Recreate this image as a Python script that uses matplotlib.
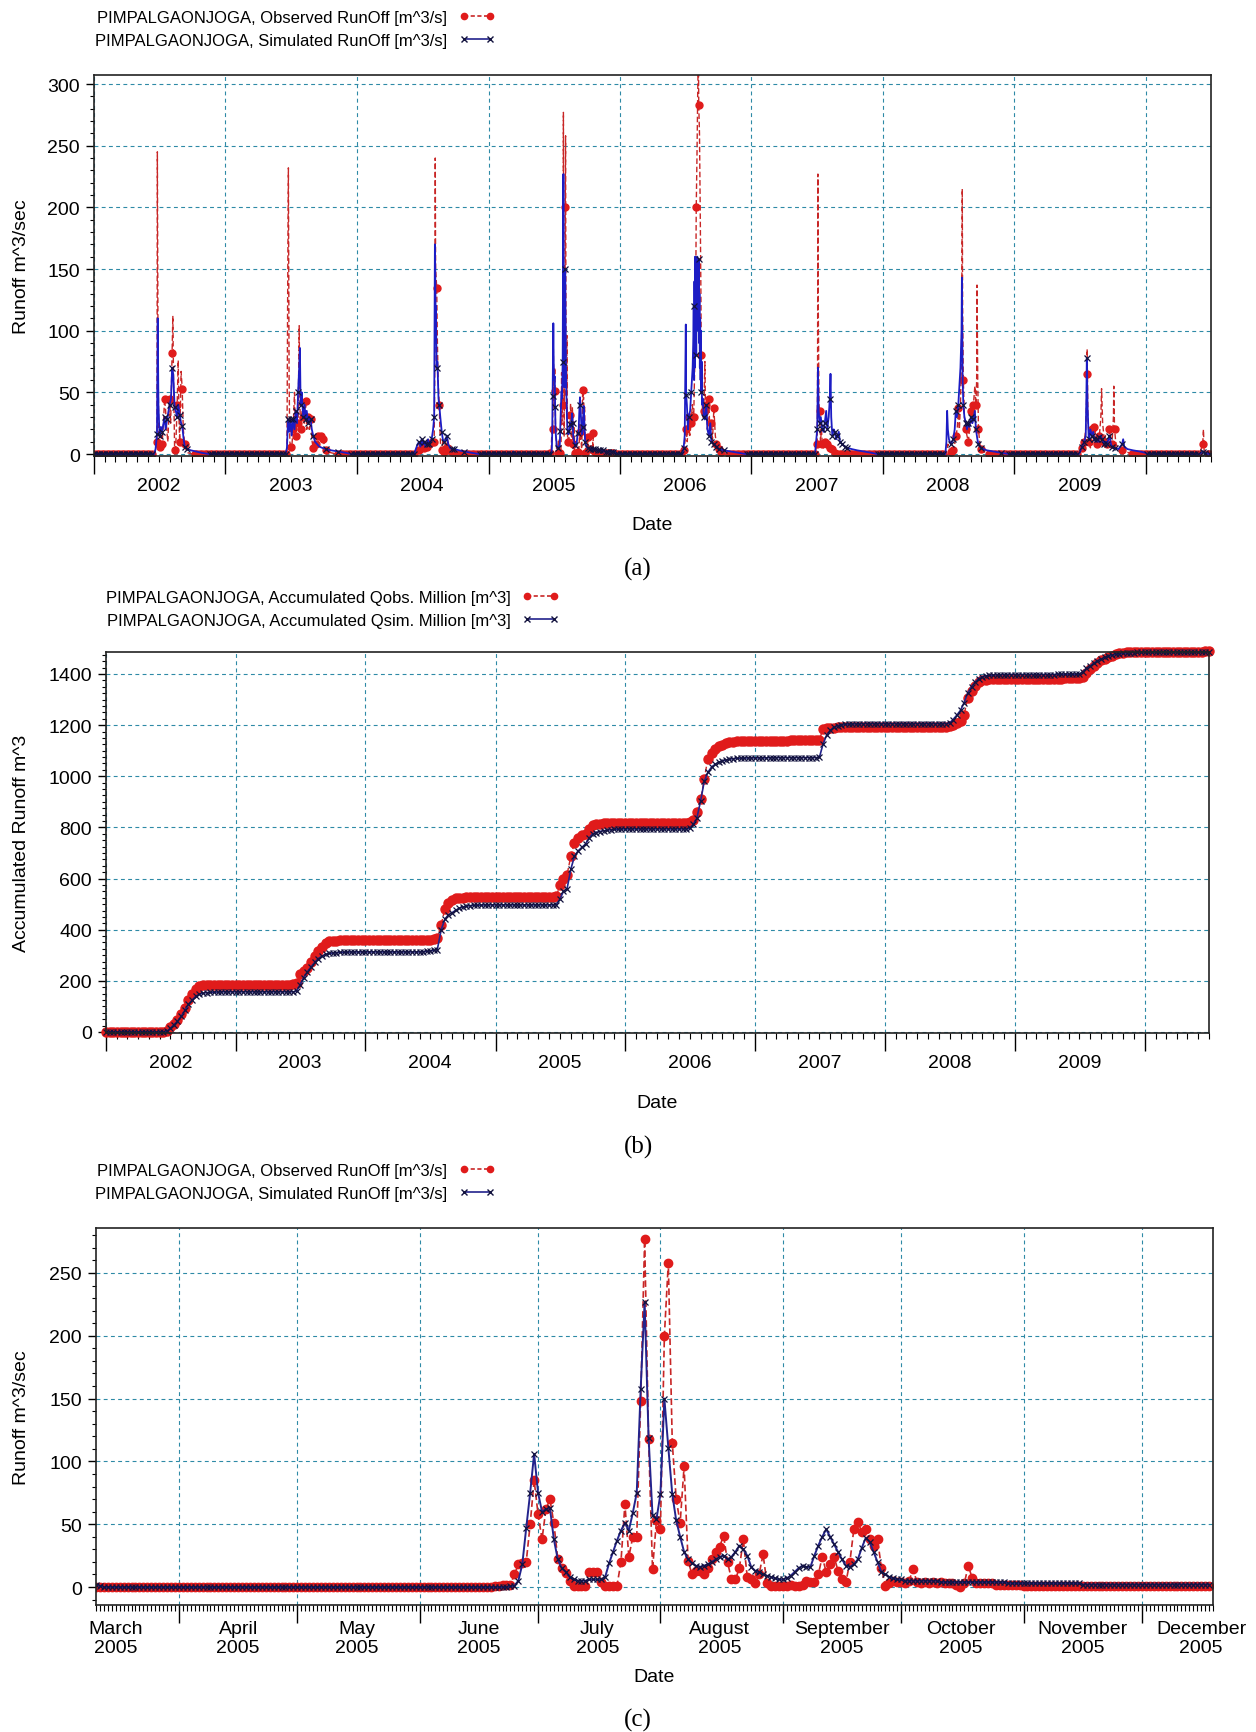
import numpy as np
import pandas as pd
import matplotlib
matplotlib.use("Agg")
import matplotlib.pyplot as plt
import matplotlib.dates as mdates
from matplotlib.lines import Line2D
from matplotlib.ticker import MultipleLocator, NullFormatter, FuncFormatter

plt.rcParams["font.family"] = ["Liberation Sans", "DejaVu Sans"]

W, H = 1256, 1733

OBS_DOT = "#e01b1b"
OBS_LINE = "#c82626"
SIM_LINE_A = "#1c1cc4"
SIM_LINE = "#23238c"
SIM_MARK = "#12123e"
GRID = "#2e8aa6"

STATION = "PIMPALGAONJOGA"
YEARS = [2002, 2003, 2004, 2005, 2006, 2007, 2008, 2009]
MARK_EVERY_DAYS = 7

# ---------------------------------------------------------------------------
# (a) daily runoff [m^3/s] during the monsoon, (day of year, value)
# dry season is zero
OBS_2002 = [(168, 0), (172, 3), (176, 10), (177, 245), (179, 75), (181, 12), (183, 6), (187, 15),
            (190, 8), (194, 25), (197, 45), (200, 35), (203, 20), (206, 10), (209, 30), (211, 45),
            (214, 25), (218, 82), (220, 112), (222, 60), (225, 3), (228, 5), (232, 40), (235, 76),
            (237, 30), (239, 10), (243, 67), (246, 53), (249, 20), (253, 8), (257, 3), (262, 1), (275, 0)]
SIM_2002 = [(168, 0), (172, 4), (176, 16), (178, 110), (180, 40), (183, 15), (187, 22), (190, 18),
            (194, 25), (197, 30), (200, 20), (204, 28), (208, 35), (211, 40), (215, 45), (218, 70),
            (221, 65), (225, 38), (228, 35), (232, 30), (235, 40), (239, 32), (243, 25), (246, 23),
            (250, 12), (253, 6), (260, 4), (270, 3), (285, 2), (300, 1), (320, 0)]

OBS_2003 = [(168, 0), (172, 2), (174, 130), (176, 232), (178, 60), (180, 10), (182, 6), (186, 8),
            (189, 20), (193, 50), (196, 15), (200, 30), (203, 25), (206, 104), (208, 40), (210, 20),
            (214, 35), (217, 30), (220, 25), (224, 43), (227, 20), (231, 30), (234, 20), (238, 28),
            (242, 10), (245, 5), (249, 15), (252, 8), (256, 15), (259, 15), (263, 12), (266, 15),
            (270, 14), (273, 12), (277, 5), (280, 3), (284, 2), (295, 1), (310, 0)]
SIM_2003 = [(168, 0), (172, 5), (175, 28), (178, 18), (182, 28), (185, 15), (189, 28), (193, 20),
            (196, 35), (200, 25), (203, 50), (206, 70), (208, 86), (210, 40), (213, 50), (217, 30),
            (221, 40), (224, 28), (227, 35), (231, 25), (234, 30), (238, 28), (241, 20), (245, 15),
            (250, 10), (256, 8), (262, 6), (270, 5), (280, 4), (295, 3), (315, 2), (335, 1), (350, 0)]

OBS_2004 = [(160, 0), (165, 2), (170, 5), (174, 3), (178, 6), (181, 8), (185, 4), (188, 5),
            (192, 3), (195, 6), (199, 4), (202, 8), (206, 6), (209, 10), (213, 12), (216, 10),
            (218, 80), (219, 240), (220, 150), (221, 145), (223, 135), (225, 90), (227, 60), (230, 40),
            (232, 20), (234, 5), (237, 3), (240, 10), (244, 2), (247, 10), (251, 5), (254, 12),
            (258, 3), (262, 8), (265, 2), (272, 1), (285, 0)]
SIM_2004 = [(160, 0), (165, 4), (170, 8), (174, 10), (178, 6), (181, 12), (185, 8), (188, 10),
            (192, 6), (195, 8), (199, 12), (202, 8), (206, 10), (209, 12), (213, 20), (216, 30),
            (217, 100), (218, 170), (219, 150), (220, 110), (221, 120), (222, 90), (223, 70), (225, 75),
            (228, 45), (230, 40), (233, 30), (237, 18), (240, 12), (244, 10), (248, 12), (251, 15),
            (255, 8), (260, 5), (265, 4), (272, 4), (285, 3), (300, 2), (320, 1), (340, 0)]

OBS_2006 = [(175, 0), (178, 3), (181, 8), (185, 20), (188, 10), (192, 30), (195, 15), (199, 25),
            (202, 40), (206, 30), (208, 60), (210, 90), (212, 150), (213, 200), (215, 240), (217, 290),
            (219, 330), (220, 283), (222, 260), (224, 200), (226, 130), (227, 80), (229, 50), (231, 30),
            (234, 35), (237, 75), (239, 30), (241, 40), (244, 20), (248, 45), (251, 15), (255, 25),
            (258, 10), (262, 37), (266, 15), (269, 8), (276, 4), (283, 2), (300, 0)]
SIM_2006 = [(175, 0), (178, 5), (181, 15), (184, 105), (185, 48), (187, 40), (190, 20), (192, 30),
            (196, 35), (199, 50), (203, 70), (205, 95), (206, 120), (207, 60), (208, 140), (209, 70),
            (210, 160), (211, 90), (212, 150), (213, 80), (214, 155), (215, 100), (216, 160), (217, 110),
            (218, 150), (219, 120), (220, 158), (221, 90), (222, 130), (223, 70), (224, 110), (225, 60),
            (226, 100), (227, 50), (228, 75), (229, 40), (231, 45), (234, 30), (237, 28), (241, 40),
            (244, 20), (248, 15), (252, 25), (255, 10), (262, 8), (269, 6), (276, 4), (290, 3),
            (310, 2), (330, 1), (350, 0)]

OBS_2007 = [(178, 0), (181, 5), (184, 8), (185, 60), (186, 227), (187, 120), (189, 40), (191, 35),
            (193, 10), (196, 20), (198, 8), (202, 5), (205, 10), (209, 4), (212, 8), (216, 3),
            (219, 5), (223, 2), (226, 4), (233, 1), (240, 0)]
SIM_2007 = [(178, 0), (181, 10), (184, 20), (185, 40), (186, 70), (188, 35), (191, 25), (194, 30),
            (198, 20), (202, 18), (205, 25), (209, 35), (212, 20), (216, 30), (219, 45), (221, 65),
            (223, 30), (226, 15), (230, 20), (233, 18), (237, 12), (240, 15), (244, 18), (247, 10),
            (254, 8), (261, 6), (268, 5), (280, 4), (295, 3), (315, 2), (335, 1), (350, 0)]

OBS_2008 = [(175, 0), (179, 3), (182, 8), (186, 4), (190, 2), (194, 5), (197, 3), (201, 8),
            (204, 15), (208, 20), (211, 37), (214, 20), (217, 40), (220, 80), (222, 215), (223, 120),
            (225, 60), (228, 30), (232, 20), (235, 15), (239, 10), (242, 20), (246, 35), (250, 25),
            (253, 40), (257, 55), (260, 40), (262, 60), (263, 137), (265, 60), (267, 20), (271, 8),
            (274, 4), (282, 2), (295, 0)]
SIM_2008 = [(175, 0), (178, 10), (180, 35), (182, 20), (185, 12), (190, 8), (194, 10), (197, 12),
            (201, 20), (204, 35), (207, 30), (211, 40), (214, 55), (217, 70), (220, 100), (221, 143),
            (223, 60), (225, 40), (228, 30), (232, 25), (235, 20), (239, 25), (242, 22), (246, 30),
            (250, 25), (253, 28), (257, 35), (260, 20), (264, 12), (267, 8), (274, 5), (290, 3),
            (310, 2), (330, 1), (350, 0)]

OBS_2009 = [(180, 0), (185, 2), (188, 5), (192, 8), (195, 10), (199, 20), (201, 40), (202, 65),
            (203, 85), (205, 30), (209, 10), (212, 5), (216, 20), (219, 18), (223, 22), (226, 15),
            (230, 8), (233, 12), (237, 15), (241, 30), (243, 53), (246, 25), (251, 10), (254, 15),
            (258, 8), (262, 10), (265, 20), (269, 12), (272, 8), (276, 30), (277, 55), (279, 20),
            (283, 8), (290, 5), (300, 3), (312, 2), (325, 0)]
SIM_2009 = [(180, 0), (185, 3), (188, 6), (192, 8), (195, 10), (199, 15), (201, 50), (202, 78),
            (204, 40), (207, 15), (209, 12), (212, 20), (216, 15), (220, 18), (223, 12), (227, 10),
            (230, 12), (234, 10), (237, 14), (241, 15), (244, 12), (248, 10), (251, 8), (255, 10),
            (258, 8), (262, 12), (265, 15), (269, 8), (272, 6), (279, 5), (290, 4), (300, 8),
            (303, 12), (306, 6), (315, 4), (330, 3), (350, 2), (365, 1)]

OBS_2010 = [(150, 0), (159, 8), (161, 20), (163, 3), (170, 0)]
SIM_2010 = [(150, 0), (159, 2), (166, 1), (175, 0)]

# ---------------------------------------------------------------------------
# (b) accumulated volume [million m^3] on the 1st, 11th and 21st of each month
ACC_OBS_2002 = [0, 0, 0, 0, 0, 0, 0, 0, 0, 0, 0, 0, 0, 0, 0, 0, 0, 3,
                18, 33, 48, 70, 95, 125, 150, 168, 180, 182, 183, 184, 184, 184, 185, 185, 185, 185]
ACC_SIM_2002 = [0, 0, 0, 0, 0, 0, 0, 0, 0, 0, 0, 0, 0, 0, 0, 0, 0, 3,
                14, 28, 42, 62, 85, 108, 126, 140, 148, 152, 154, 155, 156, 156, 157, 157, 157, 157]
ACC_OBS_2003 = [185, 185, 185, 185, 185, 185, 185, 185, 185, 185, 185, 185, 185, 185, 185, 185, 186, 190,
                225, 238, 250, 272, 298, 318, 333, 348, 354, 356, 357, 358, 358, 358, 358, 358, 358, 358]
ACC_SIM_2003 = [157, 157, 157, 157, 157, 157, 157, 157, 157, 157, 157, 157, 157, 157, 157, 157, 157, 160,
                185, 212, 235, 255, 272, 287, 297, 303, 307, 309, 310, 311, 312, 312, 313, 313, 313, 313]
ACC_OBS_2004 = [358, 358, 358, 358, 358, 358, 358, 358, 358, 358, 358, 358, 358, 358, 358, 358, 358, 359,
                361, 363, 366, 420, 480, 505, 518, 522, 524, 525, 526, 526, 527, 527, 527, 527, 527, 527]
ACC_SIM_2004 = [313, 313, 313, 313, 313, 313, 313, 313, 313, 313, 313, 313, 313, 313, 313, 313, 314, 315,
                317, 319, 322, 400, 440, 458, 467, 476, 484, 489, 492, 494, 495, 496, 496, 497, 497, 497]
ACC_OBS_2005 = [527, 527, 527, 527, 527, 527, 527, 527, 527, 527, 527, 527, 527, 527, 527, 527, 527, 530,
                575, 600, 615, 690, 740, 760, 770, 775, 795, 808, 813, 815, 816, 816, 817, 817, 817, 818]
ACC_SIM_2005 = [497, 497, 497, 497, 497, 497, 497, 497, 497, 497, 497, 497, 497, 497, 497, 497, 497, 498,
                520, 550, 560, 638, 688, 708, 722, 735, 758, 775, 780, 784, 787, 789, 791, 792, 793, 794]
ACC_OBS_2006 = [818, 818, 818, 818, 818, 818, 818, 818, 818, 818, 818, 818, 818, 818, 818, 818, 818, 818,
                820, 830, 860, 910, 990, 1068, 1092, 1106, 1118, 1124, 1129, 1133, 1135, 1136, 1137, 1138, 1138, 1139]
ACC_SIM_2006 = [794, 794, 794, 794, 794, 794, 794, 794, 794, 794, 794, 794, 794, 794, 794, 794, 794, 794,
                796, 812, 835, 905, 980, 1015, 1037, 1047, 1055, 1060, 1064, 1067, 1069, 1070, 1071, 1071, 1072, 1072]
ACC_OBS_2007 = [1139, 1139, 1139, 1139, 1139, 1139, 1139, 1139, 1139, 1139, 1140, 1140, 1140, 1140, 1140, 1141, 1141, 1141,
                1142, 1186, 1188, 1189, 1190, 1191, 1192, 1193, 1193, 1194, 1194, 1194, 1194, 1194, 1194, 1194, 1194, 1194]
ACC_SIM_2007 = [1072, 1072, 1072, 1072, 1073, 1073, 1073, 1073, 1073, 1073, 1073, 1073, 1073, 1073, 1073, 1073, 1073, 1073,
                1074, 1125, 1160, 1180, 1192, 1198, 1201, 1203, 1204, 1205, 1205, 1205, 1206, 1206, 1206, 1206, 1206, 1206]
ACC_OBS_2008 = [1194, 1194, 1194, 1194, 1194, 1194, 1194, 1194, 1194, 1194, 1194, 1194, 1194, 1194, 1194, 1194, 1194, 1194,
                1195, 1200, 1208, 1215, 1240, 1305, 1333, 1352, 1370, 1376, 1378, 1379, 1380, 1380, 1380, 1381, 1381, 1381]
ACC_SIM_2008 = [1206, 1206, 1206, 1206, 1206, 1206, 1206, 1206, 1206, 1206, 1206, 1206, 1206, 1206, 1206, 1206, 1206, 1206,
                1208, 1222, 1238, 1258, 1288, 1325, 1350, 1368, 1382, 1389, 1393, 1395, 1396, 1397, 1397, 1398, 1398, 1398]
ACC_OBS_2009 = [1381, 1381, 1381, 1381, 1381, 1381, 1381, 1381, 1381, 1381, 1382, 1382, 1382, 1382, 1383, 1383, 1383, 1384,
                1385, 1390, 1405, 1420, 1433, 1444, 1453, 1460, 1467, 1472, 1477, 1481, 1484, 1485, 1485, 1485, 1486, 1486]
ACC_SIM_2009 = [1398, 1398, 1398, 1398, 1398, 1398, 1398, 1398, 1398, 1398, 1398, 1398, 1399, 1399, 1399, 1399, 1399, 1399,
                1400, 1408, 1422, 1432, 1442, 1452, 1459, 1465, 1470, 1474, 1477, 1479, 1481, 1482, 1483, 1484, 1485, 1485]
ACC_OBS_2010 = [1486, 1486, 1486, 1486, 1486, 1486, 1486, 1486, 1486, 1486, 1486, 1486, 1486, 1486, 1486, 1487, 1487, 1488, 1488]
ACC_SIM_2010 = [1485, 1485, 1485, 1485, 1485, 1485, 1485, 1486, 1486, 1486, 1486, 1486, 1486, 1486, 1486, 1486, 1486, 1486, 1486]

# ---------------------------------------------------------------------------
# (c) daily runoff [m^3/s], 11 March - 18 December 2005
C_START = "2005-03-11"
C_OBS_MAR = [0, 0, 0, 0, 0, 0, 0, 0, 0, 0, 0, 0, 0, 0, 0, 0, 0, 0, 0, 0, 0]
C_OBS_APR = [0, 0, 0, 0, 0, 0, 0, 0, 0, 0, 0, 0, 0, 0, 0, 0, 0, 0, 0, 0, 0, 0, 0, 0, 0, 0, 0, 0, 0, 0]
C_OBS_MAY = [0, 0, 0, 0, 0, 0, 0, 0, 0, 0, 0, 0, 0, 0, 0, 0, 0, 0, 0, 0, 0, 0, 0, 0, 0, 0, 0, 0, 0, 0, 0]
C_OBS_JUN = [0, 0, 0, 0, 0, 0, 0, 0, 0, 0, 0, 0, 0, 0, 0, 0, 0, 0, 0, 1, 1, 2, 2, 2, 10, 18, 19, 20, 50, 85]
C_OBS_JUL = [58, 38, 62, 70, 51, 22, 15, 11, 5, 1, 1, 1, 1, 12, 12, 12, 4, 1, 1, 1, 1, 20, 66, 24, 40,
             40, 148, 277, 118, 14, 53]
C_OBS_AUG = [46, 200, 258, 115, 70, 51, 96, 21, 10, 13, 13, 10, 15, 22, 28, 32, 41, 20, 6, 6, 15, 38,
             8, 6, 3, 10, 26, 3, 1, 1, 1]
C_OBS_SEP = [1, 1, 2, 1, 1, 2, 5, 4, 4, 10, 24, 12, 18, 24, 13, 6, 4, 20, 46, 52, 44, 46, 38, 33, 38,
             15, 1, 3, 5, 4]
C_OBS_OCT = [4, 3, 5, 14, 4, 3, 4, 3, 4, 3, 4, 3, 3, 3, 2, 0, 3, 17, 7, 3, 3, 3, 3, 3, 2, 2, 2, 2, 2, 2, 2]
C_OBS_NOV = [1, 1, 1, 1, 1, 1, 1, 1, 1, 1, 1, 1, 1, 1, 1, 0.5, 0.5, 0.5, 0.5, 0.5, 0.5, 0.5, 0.5, 0.5,
             0.5, 0.5, 0.5, 0.5, 0.5, 0.5]
C_OBS_DEC = [0.5, 0.5, 0.5, 0.5, 0.5, 0.5, 0.5, 0.5, 0.5, 0.5, 0.5, 0.5, 0.5, 0.5, 0.5, 0.5, 0.5, 0.5]

C_SIM_MAR = [2, 1, 0, 0, 0, 0, 0, 0, 0, 0, 0, 0, 0, 0, 0, 0, 0, 0, 0, 0, 0]
C_SIM_APR = [0, 0, 0, 0, 0, 0, 0, 0, 0, 0, 0, 0, 0, 0, 0, 0, 0, 0, 0, 0, 0, 0, 0, 0, 0, 0, 0, 0, 0, 0]
C_SIM_MAY = [0, 0, 0, 0, 0, 0, 0, 0, 0, 0, 0, 0, 0, 0, 0, 0, 0, 0, 0, 0, 0, 0, 0, 0, 0, 0, 0, 0, 0, 0, 0]
C_SIM_JUN = [0, 0, 0, 0, 0, 0, 0, 0, 0, 0, 0, 0, 0, 0, 0, 0, 0, 0, 0, 0, 0, 0, 0, 0.5, 1, 5, 18, 47, 75, 106]
C_SIM_JUL = [75, 60, 62, 63, 38, 22, 15, 12, 8, 6, 5, 5, 5, 6, 6, 6, 6, 8, 19, 28, 37, 45, 51, 45, 59,
             75, 158, 227, 119, 57, 54]
C_SIM_AUG = [74, 150, 111, 74, 53, 40, 28, 22, 19, 17, 16, 17, 18, 20, 22, 24, 25, 22, 24, 28, 33, 30,
             25, 16, 13, 12, 10, 9, 8, 7, 6]
C_SIM_SEP = [6, 7, 9, 12, 15, 17, 16, 16, 25, 33, 40, 46, 40, 34, 28, 22, 17, 16, 18, 22, 31, 39, 36,
             28, 20, 12, 10, 8, 7, 6]
C_SIM_OCT = [6, 5, 5, 5, 5, 5, 5, 5, 5, 5, 4, 4, 4, 4, 4, 4, 4, 4, 4, 4, 4, 4, 4, 4, 4, 4, 4, 3, 3, 3, 3]
C_SIM_NOV = [3, 3, 3, 3, 3, 3, 3, 3, 3, 3, 3, 3, 3, 3, 3, 2, 2, 2, 2, 2, 2, 2, 2, 2, 2, 2, 2, 2, 2, 2]
C_SIM_DEC = [2, 2, 2, 2, 2, 2, 2, 2, 2, 2, 2, 2, 2, 2, 2, 2, 2, 2]


def fig_rect(left, top, right, bottom):
    """Axes rectangle from pixel edges (origin top-left)."""
    return [left / W, 1 - bottom / H, (right - left) / W, (bottom - top) / H]


def c_series(months):
    vals = np.concatenate([np.asarray(m, float) for m in months])
    dates = pd.date_range(C_START, periods=len(vals), freq="D")
    return dates, vals


def runoff_points(events, c_dates, c_vals):
    """Weekly zero readings in the dry season plus the monsoon values.

    Markers go on every 7th day counted from the start of the record."""
    start, end = pd.Timestamp(2002, 1, 1), pd.Timestamp(2010, 7, 1)
    rows, windows = [], []
    for year, ev in events.items():
        t0 = pd.Timestamp(year, 1, 1)
        pts = [(t0 + pd.Timedelta(days=d - 1), v) for d, v in ev]
        windows.append((pts[0][0], pts[-1][0]))
        rows += pts
    windows.append((c_dates[0], c_dates[-1]))
    rows += list(zip(c_dates, c_vals))
    for t in pd.date_range(start, end, freq=f"{MARK_EVERY_DAYS}D"):
        if not any(a <= t <= b for a, b in windows):
            rows.append((t, 0.0))
    df = pd.DataFrame(rows, columns=["date", "q"]).sort_values("date")
    df["mark"] = (df["date"] - start).dt.days % MARK_EVERY_DAYS == 0
    return df


def dekads(year, values):
    days = [pd.Timestamp(year, m, d) for m in range(1, 13) for d in (1, 11, 21)]
    days.append(pd.Timestamp(year + 1, 1, 1))
    return days[:len(values)]


def style(ax, ylim, major, minor):
    ax.set_ylim(*ylim)
    ax.yaxis.set_major_locator(MultipleLocator(major))
    ax.yaxis.set_minor_locator(MultipleLocator(minor))
    ax.grid(True, which="major", color=GRID, linestyle=(0, (3.5, 3)), linewidth=0.8)
    ax.tick_params(axis="y", which="major", direction="out", length=6, width=1.0,
                   labelsize=14, pad=4)
    ax.tick_params(axis="y", which="minor", direction="out", length=3, width=0.8)
    ax.tick_params(axis="x", which="major", direction="out", length=13, width=1.0)
    ax.xaxis.set_major_formatter(NullFormatter())
    for sp in ax.spines.values():
        sp.set_linewidth(1.2)
        sp.set_color("#222222")
    ax.set_axisbelow(True)


def year_axis(ax):
    ax.set_xlim(pd.Timestamp(2002, 1, 1), pd.Timestamp(2010, 7, 1))
    ax.xaxis.set_major_locator(mdates.YearLocator())
    ax.xaxis.set_minor_locator(mdates.MonthLocator())

    def label(x, pos):
        d = mdates.num2date(x)
        return str(d.year) if d.month == 7 and d.year in YEARS else ""

    ax.xaxis.set_minor_formatter(FuncFormatter(label))
    ax.tick_params(axis="x", which="minor", direction="out", length=4, width=0.8,
                   labelsize=14, pad=11)


def legend(fig, x, y, labels, ms_obs, ms_sim):
    h_obs = Line2D([], [], color=OBS_LINE, ls=(0, (2.5, 1.5)), lw=1.2, marker="o",
                   ms=ms_obs, mfc=OBS_DOT, mec=OBS_DOT)
    h_sim = Line2D([], [], color=SIM_LINE, lw=1.2, marker="x", ms=ms_sim,
                   mec=SIM_MARK, mew=1.0)
    fig.legend([h_obs, h_sim], labels, loc="center left",
               bbox_to_anchor=(x / W, 1 - y / H), frameon=False, fontsize=12,
               markerfirst=False, numpoints=2, handlelength=2.2, handletextpad=0.7,
               labelspacing=0.45, borderpad=0, borderaxespad=0)


def panel_texts(fig, ax, date_y, tag, tag_y, ylabel, ylabel_x):
    box = ax.get_position()
    fig.text(box.x0 + box.width / 2, 1 - date_y / H, "Date", fontsize=14,
             ha="center", va="center")
    fig.text(638 / W, 1 - tag_y / H, tag, fontsize=18, family="Liberation Serif",
             ha="center", va="center")
    fig.text(ylabel_x / W, box.y0 + box.height / 2, ylabel, fontsize=14,
             rotation=90, ha="center", va="center")


fig = plt.figure(figsize=(W / 100, H / 100), dpi=100)
fig.patch.set_facecolor("white")

c_dates, c_obs = c_series([C_OBS_MAR, C_OBS_APR, C_OBS_MAY, C_OBS_JUN, C_OBS_JUL,
                           C_OBS_AUG, C_OBS_SEP, C_OBS_OCT, C_OBS_NOV, C_OBS_DEC])
_, c_sim = c_series([C_SIM_MAR, C_SIM_APR, C_SIM_MAY, C_SIM_JUN, C_SIM_JUL,
                     C_SIM_AUG, C_SIM_SEP, C_SIM_OCT, C_SIM_NOV, C_SIM_DEC])

# ---- (a) daily runoff 2002-2010
ax_a = fig.add_axes(fig_rect(94, 76, 1211, 457))
obs_a = runoff_points({2002: OBS_2002, 2003: OBS_2003, 2004: OBS_2004, 2006: OBS_2006,
                       2007: OBS_2007, 2008: OBS_2008, 2009: OBS_2009, 2010: OBS_2010},
                      c_dates, c_obs)
sim_a = runoff_points({2002: SIM_2002, 2003: SIM_2003, 2004: SIM_2004, 2006: SIM_2006,
                       2007: SIM_2007, 2008: SIM_2008, 2009: SIM_2009, 2010: SIM_2010},
                      c_dates, c_sim)
ax_a.plot(obs_a["date"], obs_a["q"], color=OBS_LINE, lw=1.0, ls=(0, (4, 2)))
m = obs_a["mark"].to_numpy()
ax_a.plot(obs_a["date"][m], obs_a["q"][m], ls="none", marker="o", ms=5,
          mfc=OBS_DOT, mec=OBS_DOT)
ax_a.plot(sim_a["date"], sim_a["q"], color=SIM_LINE_A, lw=1.3)
m = sim_a["mark"].to_numpy()
ax_a.plot(sim_a["date"][m], sim_a["q"][m], ls="none", marker="x", ms=4.5,
          mec=SIM_MARK, mew=0.9)
style(ax_a, (-1.6, 307.3), 50, 10)
year_axis(ax_a)
legend(fig, 95, 30, [f"{STATION}, Observed RunOff [m^3/s]",
                     f"{STATION}, Simulated RunOff [m^3/s]"], 4.5, 4.5)
panel_texts(fig, ax_a, 526, "(a)", 569, "Runoff m^3/sec", 22)

# ---- (b) accumulated runoff
ax_b = fig.add_axes(fig_rect(106, 653, 1209, 1034))
acc_obs = [ACC_OBS_2002, ACC_OBS_2003, ACC_OBS_2004, ACC_OBS_2005, ACC_OBS_2006,
           ACC_OBS_2007, ACC_OBS_2008, ACC_OBS_2009, ACC_OBS_2010]
acc_sim = [ACC_SIM_2002, ACC_SIM_2003, ACC_SIM_2004, ACC_SIM_2005, ACC_SIM_2006,
           ACC_SIM_2007, ACC_SIM_2008, ACC_SIM_2009, ACC_SIM_2010]
b_dates = sum((dekads(2002 + i, v) for i, v in enumerate(acc_obs)), [])
b_obs = np.concatenate(acc_obs).astype(float)
b_sim = np.concatenate(acc_sim).astype(float)
ax_b.plot(b_dates, b_obs, color=OBS_LINE, lw=1.0, ls=(0, (4, 2)), marker="o", ms=6.5,
          mfc=OBS_DOT, mec=OBS_DOT, clip_on=False)
ax_b.plot(b_dates, b_sim, color=SIM_LINE, lw=1.2, marker="x", ms=5, mec=SIM_MARK,
          mew=0.9, clip_on=False)
style(ax_b, (-4, 1486), 200, 25)
year_axis(ax_b)
legend(fig, 106, 610, [f"{STATION}, Accumulated Qobs. Million [m^3]",
                       f"{STATION}, Accumulated Qsim. Million [m^3]"], 4.5, 4.5)
panel_texts(fig, ax_b, 1103, "(b)", 1147, "Accumulated Runoff m^3", 22)

# ---- (c) daily runoff, monsoon 2005
ax_c = fig.add_axes(fig_rect(96, 1229, 1213, 1606))
ax_c.plot(c_dates, c_obs, color=OBS_LINE, lw=1.2, ls=(0, (4, 2)), marker="o", ms=6,
          mfc=OBS_DOT, mec=OBS_DOT)
ax_c.plot(c_dates, c_sim, color=SIM_LINE, lw=1.4, marker="x", ms=5, mec=SIM_MARK, mew=0.9)
style(ax_c, (-14.3, 285.8), 50, 10)
ax_c.set_xlim(pd.Timestamp(2005, 3, 11), pd.Timestamp(2005, 12, 19))
ax_c.xaxis.set_major_locator(mdates.MonthLocator())
ax_c.xaxis.set_minor_locator(mdates.DayLocator())


def month_label(x, pos):
    d = mdates.num2date(x)
    return d.strftime("%B\n%Y") if d.day == 16 else ""


ax_c.xaxis.set_minor_formatter(FuncFormatter(month_label))
ax_c.tick_params(axis="x", which="minor", direction="out", length=4.5, width=0.8,
                 labelsize=14, pad=6)
legend(fig, 95, 1183, [f"{STATION}, Observed RunOff [m^3/s]",
                       f"{STATION}, Simulated RunOff [m^3/s]"], 4.5, 4.5)
panel_texts(fig, ax_c, 1678, "(c)", 1720, "Runoff m^3/sec", 22)

fig.savefig("out.png", dpi=100)
